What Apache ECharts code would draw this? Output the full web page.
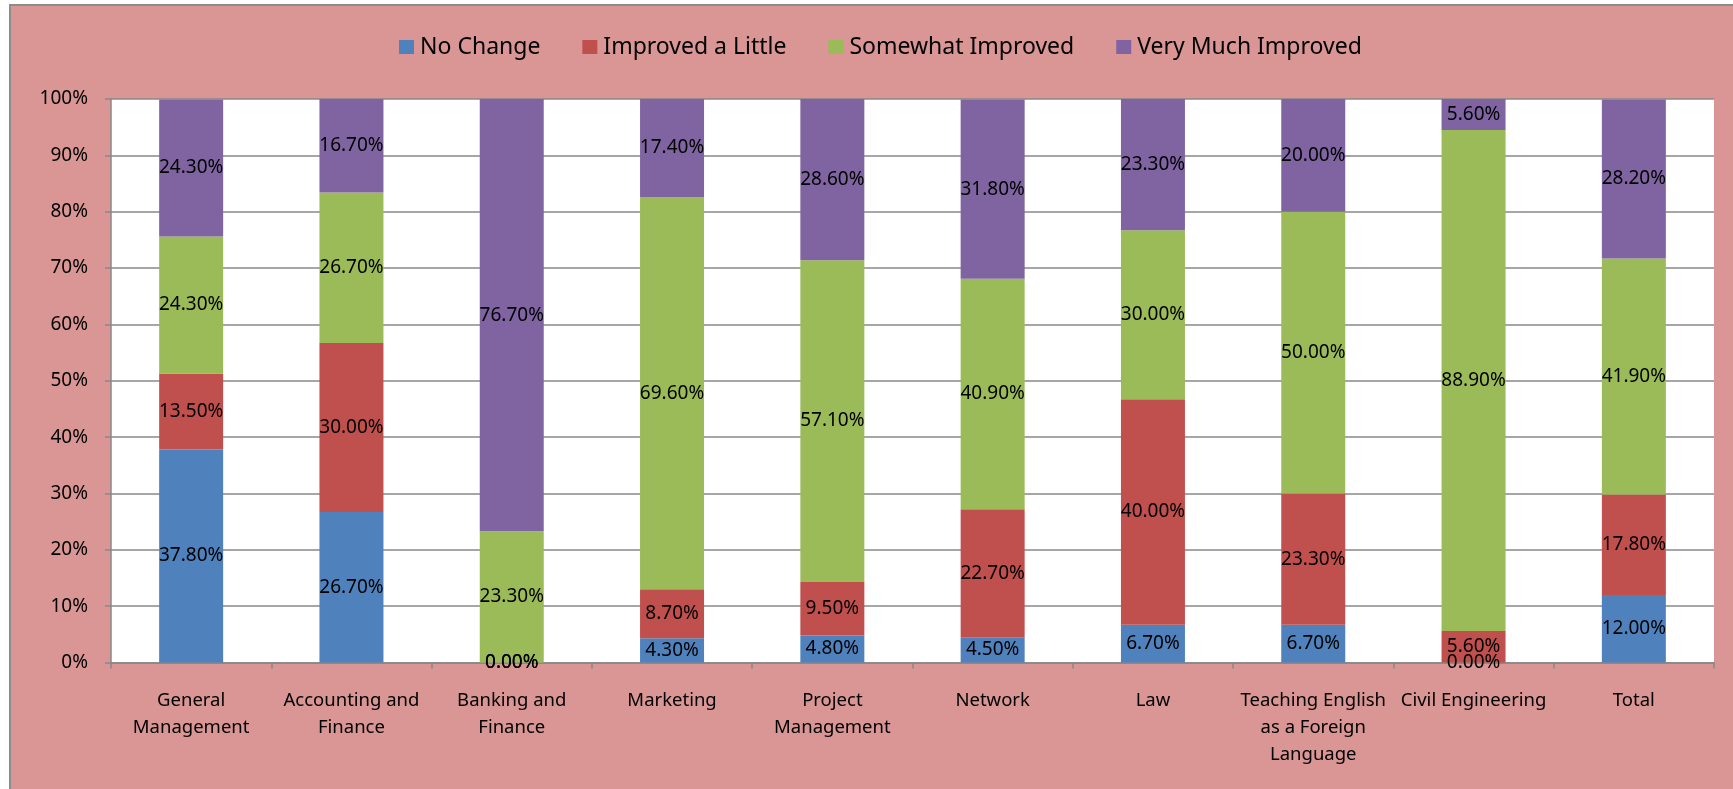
<!DOCTYPE html>
<html>
<head>
<meta charset="utf-8">
<script src="https://cdn.jsdelivr.net/npm/echarts@6/dist/echarts.min.js"></script>
<style>
  html, body { margin: 0; padding: 0; width: 1733px; height: 789px; background: #ffffff; overflow: hidden; }
  #frame { position: absolute; left: 9px; top: 4px; right: -4px; bottom: -4px; background: #D99694;
           border-left: 2px solid #8c8c8c; border-top: 2px solid #8c8c8c; }
  #chart { position: absolute; left: 0; top: 0; width: 1733px; height: 789px; }
</style>
</head>
<body>
<div id="frame"></div>
<div id="chart"></div>
<script>
const categories = [
  "General\nManagement",
  "Accounting and\nFinance",
  "Banking and\nFinance",
  "Marketing",
  "Project\nManagement",
  "Network",
  "Law",
  "Teaching English\nas a Foreign\nLanguage",
  "Civil Engineering",
  "Total"
];
const seriesNames = ["No Change", "Improved a Little", "Somewhat Improved", "Very Much Improved"];
const noChange        = [37.8, 26.7, 0.0, 4.3, 4.8, 4.5, 6.7, 6.7, 0.0, 12.0];
const improvedLittle  = [13.5, 30.0, 0.0, 8.7, 9.5, 22.7, 40.0, 23.3, 5.6, 17.8];
const somewhatImproved= [24.3, 26.7, 23.3, 69.6, 57.1, 40.9, 30.0, 50.0, 88.9, 41.9];
const veryMuchImproved= [24.3, 16.7, 76.7, 17.4, 28.6, 31.8, 23.3, 20.0, 5.6, 28.2];
const yTicks = [0, 10, 20, 30, 40, 50, 60, 70, 80, 90, 100];

const colors = ["#4F81BD", "#C0504D", "#9BBB59", "#8064A2"];
const FONT = "Noto Sans";
const seriesData = [noChange, improvedLittle, somewhatImproved, veryMuchImproved];

const chart = echarts.init(document.getElementById('chart'), null, { renderer: 'canvas' });
chart.setOption({
  backgroundColor: 'transparent',
  animation: false,
  color: colors,
  textStyle: { fontFamily: FONT },
  legend: {
    left: 394,
    top: 29,
    itemWidth: 15,
    itemHeight: 14,
    itemGap: 42,
    icon: 'rect',
    textStyle: { fontFamily: FONT, fontSize: 23, color: '#000', lineHeight: 26, padding: [0, 0, 0, 1] },
    data: seriesNames
  },
  grid: { left: 111, right: 19, top: 99, bottom: 126.5, backgroundColor: '#ffffff', show: true, borderWidth: 0 },
  xAxis: {
    type: 'category',
    data: categories,
    axisLine: { show: true, lineStyle: { color: '#888888', width: 1.5 } },
    axisTick: { show: true, alignWithLabel: false, interval: 0, length: 6, lineStyle: { color: '#888888', width: 1.5 } },
    axisLabel: { interval: 0, fontFamily: FONT, fontSize: 18.5, lineHeight: 27, margin: 25, color: '#000' }
  },
  yAxis: {
    type: 'value',
    min: yTicks[0],
    max: yTicks[yTicks.length - 1],
    interval: 10,
    axisLine: { show: true, lineStyle: { color: '#888888', width: 1.5 } },
    axisTick: { show: true, length: 6, lineStyle: { color: '#888888', width: 1.5 } },
    splitLine: { show: true, lineStyle: { color: '#888888', width: 1.5 } },
    axisLabel: { fontFamily: FONT, fontSize: 19, margin: 23, color: '#000', formatter: '{value}%' }
  },
  series: seriesNames.map((name, i) => ({
    name: name,
    type: 'bar',
    stack: 'total',
    barWidth: 64,
    data: seriesData[i],
    itemStyle: { color: colors[i] },
    label: {
      show: true,
      position: 'inside',
      fontFamily: FONT,
      fontSize: 19,
      color: '#000',
      formatter: p => p.value.toFixed(2) + '%'
    }
  }))
});
</script>
</body>
</html>
